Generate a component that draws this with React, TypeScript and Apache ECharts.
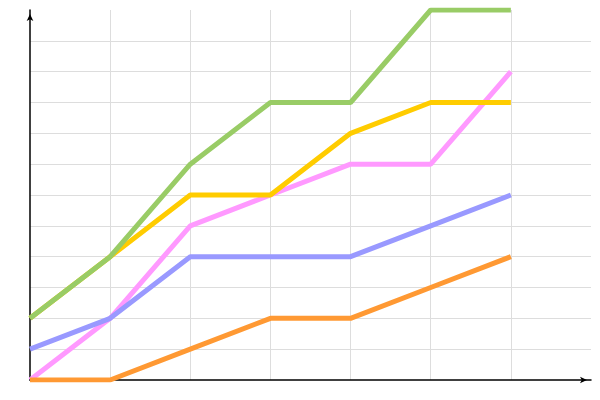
import React, { useEffect, useRef } from "react";
import * as echarts from "echarts";

const xPositions = [0, 1, 2, 3, 4, 5, 6];
const pinkValues = [0, 2, 5, 6, 7, 7, 10];
const blueValues = [1, 2, 4, 4, 4, 5, 6];
const orangeValues = [0, 0, 1, 2, 2, 3, 4];
const yellowValues = [2, 4, 6, 6, 8, 9, 9];
const greenValues = [2, 4, 7, 9, 9, 12, 12];

const seriesDefs = [
  { name: "pink", values: pinkValues, color: "#ff99ff" },
  { name: "blue", values: blueValues, color: "#9999ff" },
  { name: "orange", values: orangeValues, color: "#ff9933" },
  { name: "yellow", values: yellowValues, color: "#ffcc00" },
  { name: "green", values: greenValues, color: "#99cc66" },
];

const axisLine = {
  show: true,
  symbol: ["none", "arrow"],
  symbolSize: [5, 7],
  symbolOffset: [0, -4],
  lineStyle: { color: "#000", width: 1.5 },
};

const splitLine = {
  show: true,
  showMinLine: false,
  showMaxLine: false,
  lineStyle: { color: "#dddddd", width: 1 },
};

export default function App() {
  const ref = useRef<HTMLDivElement>(null);
  useEffect(() => {
    if (!ref.current) return;
    const chart = echarts.init(ref.current, null, { renderer: "svg" });
    chart.setOption({
      animation: false,
      grid: { left: 30, right: 9, top: 10, bottom: 20 },
      xAxis: {
        type: "value",
        min: 0,
        max: 7,
        interval: 1,
        axisLine,
        axisTick: { show: false },
        axisLabel: { show: false },
        splitLine,
      },
      yAxis: {
        type: "value",
        min: 0,
        max: 12,
        interval: 1,
        axisLine,
        axisTick: { show: false },
        axisLabel: { show: false },
        splitLine,
      },
      series: seriesDefs.map((s) => ({
        name: s.name,
        type: "line",
        data: s.values.map((v, i) => [xPositions[i], v]),
        showSymbol: false,
        symbol: "none",
        lineStyle: { color: s.color, width: 5 },
        itemStyle: { color: s.color },
      })),
    });
    return () => chart.dispose();
  }, []);
  return <div ref={ref} style={{ width: 600, height: 400, position: "absolute", left: 0, top: 0 }} />;
}
